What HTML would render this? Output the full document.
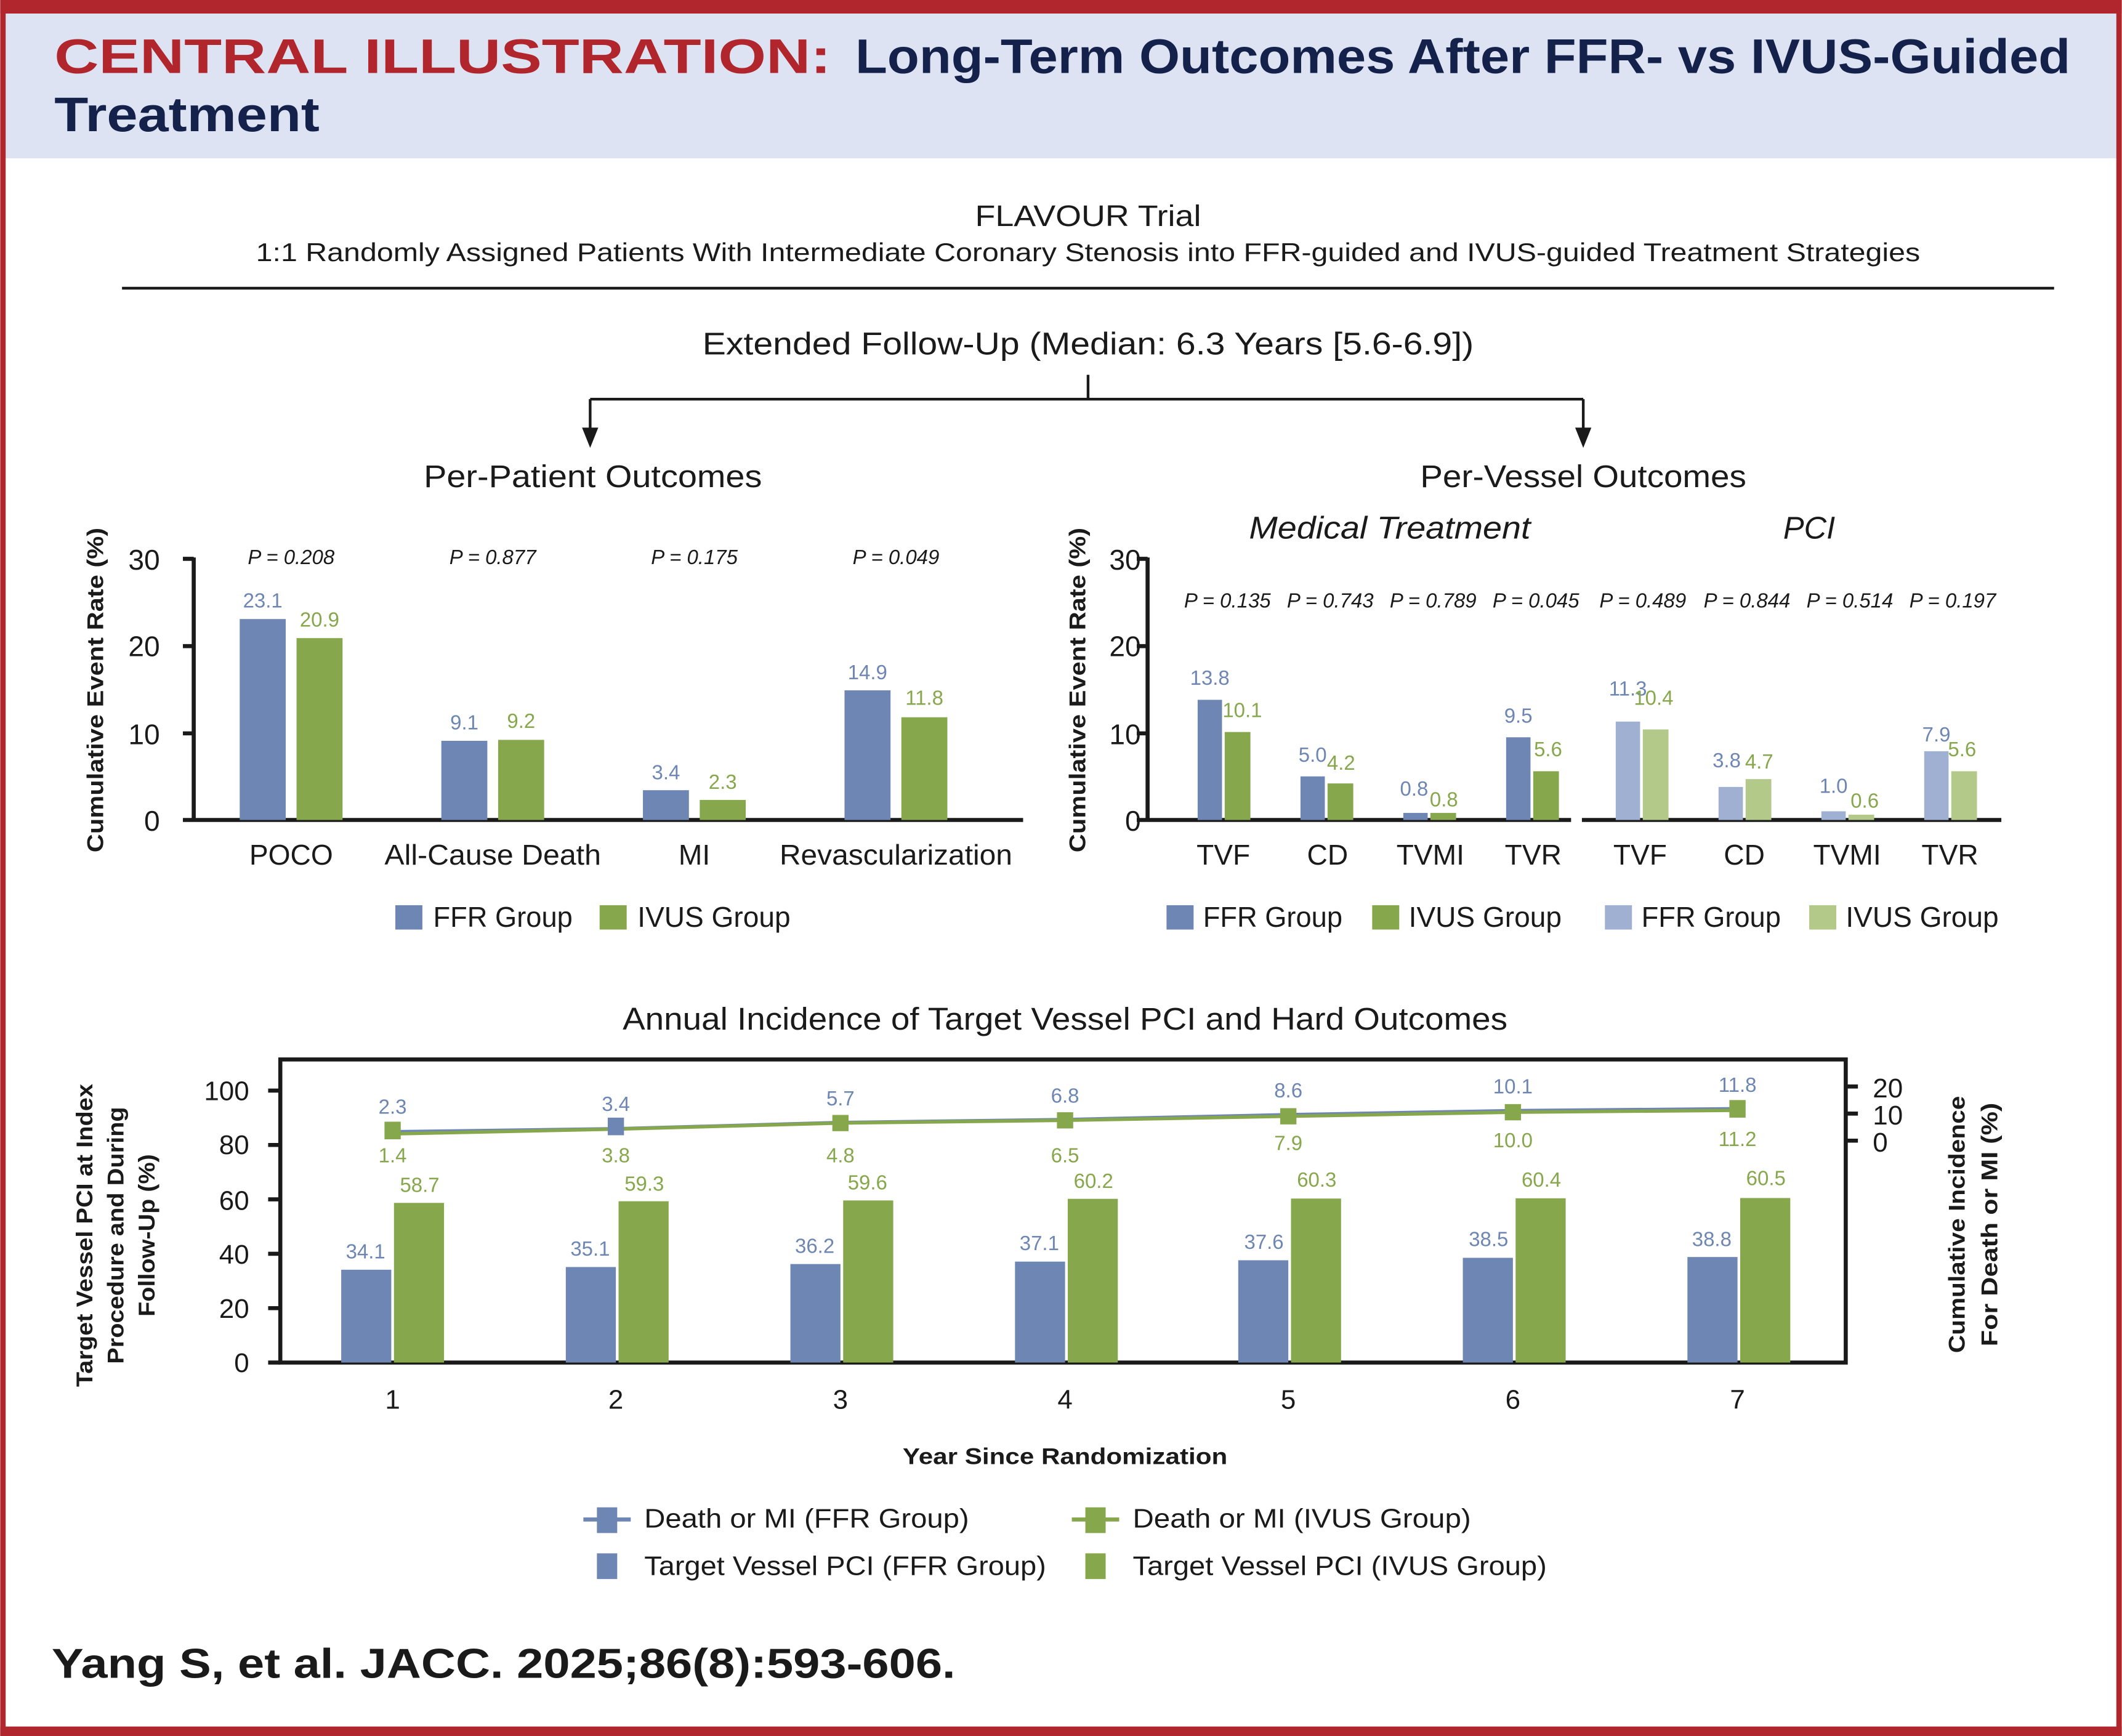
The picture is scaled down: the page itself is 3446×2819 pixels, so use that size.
<!DOCTYPE html>
<html><head><meta charset="utf-8"><style>
html,body{margin:0;padding:0;background:#fff}
svg{display:block}
text{font-family:"Liberation Sans",sans-serif}
</style></head><body>
<svg width="3446" height="2819" viewBox="0 0 1568 1283" xmlns="http://www.w3.org/2000/svg">
<rect x="0" y="0" width="1568" height="1283" fill="#fff"/>
<rect x="3" y="9" width="1562" height="108" fill="#dde3f3"/>
<rect x="0" y="0" width="1568" height="10" fill="#b0262c"/>
<rect x="0" y="0" width="4" height="1283" fill="#b0262c"/>
<rect x="1564" y="0" width="4" height="1283" fill="#b0262c"/>
<rect x="0" y="1276" width="1568" height="7" fill="#b0262c"/>
<text x="40" y="54" font-size="36" font-weight="bold" fill="#b0262c" textLength="574" lengthAdjust="spacingAndGlyphs">CENTRAL ILLUSTRATION:</text>
<text x="632" y="54" font-size="36" font-weight="bold" fill="#14214a" textLength="898" lengthAdjust="spacingAndGlyphs">Long-Term Outcomes After FFR- vs IVUS-Guided</text>
<text x="40" y="97" font-size="36" font-weight="bold" fill="#14214a" textLength="196" lengthAdjust="spacingAndGlyphs">Treatment</text>

<g fill="#1a1a1a" text-anchor="middle">
<text x="804" y="167" font-size="22" textLength="167" lengthAdjust="spacingAndGlyphs">FLAVOUR Trial</text>
<text x="804" y="193" font-size="19" textLength="1230" lengthAdjust="spacingAndGlyphs">1:1 Randomly Assigned Patients With Intermediate Coronary Stenosis into FFR-guided and IVUS-guided Treatment Strategies</text>
<text x="804" y="262" font-size="23" textLength="570" lengthAdjust="spacingAndGlyphs">Extended Follow-Up (Median: 6.3 Years [5.6-6.9])</text>
<text x="438" y="360" font-size="23" textLength="250" lengthAdjust="spacingAndGlyphs">Per-Patient Outcomes</text>
<text x="1170" y="360" font-size="23" textLength="241" lengthAdjust="spacingAndGlyphs">Per-Vessel Outcomes</text>
</g>
<g stroke="#1a1a1a" stroke-width="2" fill="none">
<line x1="90" y1="213" x2="1518" y2="213"/>
<line x1="804" y1="277" x2="804" y2="295"/>
<line x1="436" y1="295" x2="1170" y2="295"/>
<line x1="436" y1="295" x2="436" y2="318"/>
<line x1="1170" y1="295" x2="1170" y2="318"/>
</g>
<polygon points="430,316 442,316 436,331" fill="#1a1a1a"/>
<polygon points="1164,316 1176,316 1170,331" fill="#1a1a1a"/>

<!-- Left chart -->
<g stroke="#1a1a1a" stroke-width="3">
<line x1="143" y1="412" x2="143" y2="607"/>
<line x1="135" y1="606" x2="756" y2="606"/>
<line x1="135" y1="413" x2="143" y2="413"/>
<line x1="135" y1="477.5" x2="143" y2="477.5"/>
<line x1="135" y1="542" x2="143" y2="542"/>
</g>
<g font-size="21" fill="#1a1a1a" text-anchor="end">
<text x="118" y="421">30</text><text x="118" y="485">20</text><text x="118" y="550">10</text><text x="118" y="614">0</text>
</g>
<text transform="translate(76,510) rotate(-90)" font-size="17" font-weight="bold" text-anchor="middle" fill="#1a1a1a" textLength="240" lengthAdjust="spacingAndGlyphs">Cumulative Event Rate (%)</text>
<g fill="#6e86b3">
<rect x="177" y="457.5" width="34" height="148.5"/>
<rect x="326" y="547.5" width="34" height="58.5"/>
<rect x="475" y="584" width="34" height="22"/>
<rect x="624" y="510.2" width="34" height="95.8"/>
</g>
<g fill="#87a74c">
<rect x="219" y="471.6" width="34" height="134.4"/>
<rect x="368" y="546.8" width="34" height="59.2"/>
<rect x="517" y="591.2" width="34" height="14.8"/>
<rect x="666" y="530.1" width="34" height="75.9"/>
</g>
<g font-size="15" text-anchor="middle">
<g fill="#6e86b3"><text x="194" y="449">23.1</text><text x="343" y="539">9.1</text><text x="492" y="576">3.4</text><text x="641" y="502">14.9</text></g>
<g fill="#87a74c"><text x="236" y="463">20.9</text><text x="385" y="538">9.2</text><text x="534" y="583">2.3</text><text x="683" y="521">11.8</text></g>
<g fill="#1a1a1a" font-style="italic"><text x="215" y="417">P = 0.208</text><text x="364" y="417">P = 0.877</text><text x="513" y="417">P = 0.175</text><text x="662" y="417">P = 0.049</text></g>
</g>
<g font-size="21" text-anchor="middle" fill="#1a1a1a">
<text x="215" y="639">POCO</text><text x="364" y="639" textLength="160" lengthAdjust="spacingAndGlyphs">All-Cause Death</text><text x="513" y="639">MI</text><text x="662" y="639" textLength="172" lengthAdjust="spacingAndGlyphs">Revascularization</text>
</g>
<rect x="292" y="669" width="20" height="18" fill="#6e86b3"/>
<text x="320" y="685" font-size="21" fill="#1a1a1a" textLength="103" lengthAdjust="spacingAndGlyphs">FFR Group</text>
<rect x="443" y="669" width="20" height="18" fill="#87a74c"/>
<text x="471" y="685" font-size="21" fill="#1a1a1a" textLength="113" lengthAdjust="spacingAndGlyphs">IVUS Group</text>

<!-- Right chart -->
<g stroke="#1a1a1a" stroke-width="3">
<line x1="848" y1="412" x2="848" y2="607"/>
<line x1="840" y1="606" x2="1161" y2="606"/>
<line x1="1169" y1="606" x2="1479" y2="606"/>
<line x1="840" y1="413" x2="848" y2="413"/>
<line x1="840" y1="477.5" x2="848" y2="477.5"/>
<line x1="840" y1="542" x2="848" y2="542"/>
</g>
<g font-size="21" fill="#1a1a1a" text-anchor="end">
<text x="843" y="421">30</text><text x="843" y="485">20</text><text x="843" y="550">10</text><text x="843" y="614">0</text>
</g>
<text transform="translate(802,510) rotate(-90)" font-size="17" font-weight="bold" text-anchor="middle" fill="#1a1a1a" textLength="240" lengthAdjust="spacingAndGlyphs">Cumulative Event Rate (%)</text>
<text x="1027" y="398" font-size="23" font-style="italic" text-anchor="middle" fill="#1a1a1a" textLength="208" lengthAdjust="spacingAndGlyphs">Medical Treatment</text>
<text x="1337" y="398" font-size="23" font-style="italic" text-anchor="middle" fill="#1a1a1a">PCI</text>
<g fill="#6e86b3">
<rect x="885" y="517.2" width="18" height="88.8"/><rect x="961" y="573.8" width="18" height="32.2"/><rect x="1037" y="600.8" width="18" height="5.2"/><rect x="1113" y="544.9" width="18" height="61.1"/>
</g>
<g fill="#87a74c">
<rect x="905" y="541" width="19" height="65"/><rect x="981" y="579" width="19" height="27"/><rect x="1057" y="600.8" width="19" height="5.2"/><rect x="1133" y="570" width="19" height="36"/>
</g>
<g fill="#a0b0d2">
<rect x="1194" y="533.3" width="18" height="72.7"/><rect x="1270" y="581.6" width="18" height="24.4"/><rect x="1346" y="599.6" width="18" height="6.4"/><rect x="1422" y="555.2" width="18" height="50.8"/>
</g>
<g fill="#b3c98a">
<rect x="1214" y="539.1" width="19" height="66.9"/><rect x="1290" y="575.8" width="19" height="30.2"/><rect x="1366" y="602.1" width="19" height="3.9"/><rect x="1442" y="570" width="19" height="36"/>
</g>
<g font-size="15" text-anchor="middle">
<g fill="#6e86b3"><text x="894" y="506">13.8</text><text x="970" y="563">5.0</text><text x="1045" y="588">0.8</text><text x="1122" y="534">9.5</text>
<text x="1203" y="514">11.3</text><text x="1276" y="567">3.8</text><text x="1355" y="586">1.0</text><text x="1431" y="548">7.9</text></g>
<g fill="#87a74c"><text x="918" y="530">10.1</text><text x="991" y="569">4.2</text><text x="1067" y="596">0.8</text><text x="1144" y="559">5.6</text>
<text x="1222" y="521">10.4</text><text x="1300" y="568">4.7</text><text x="1378" y="597">0.6</text><text x="1450" y="559">5.6</text></g>
<g fill="#1a1a1a" font-style="italic">
<text x="907" y="449">P = 0.135</text><text x="983" y="449">P = 0.743</text><text x="1059" y="449">P = 0.789</text><text x="1135" y="449">P = 0.045</text>
<text x="1214" y="449">P = 0.489</text><text x="1291" y="449">P = 0.844</text><text x="1367" y="449">P = 0.514</text><text x="1443" y="449">P = 0.197</text></g>
</g>
<g font-size="21" text-anchor="middle" fill="#1a1a1a">
<text x="904" y="639">TVF</text><text x="981" y="639">CD</text><text x="1057" y="639">TVMI</text><text x="1133" y="639">TVR</text>
<text x="1212" y="639">TVF</text><text x="1289" y="639">CD</text><text x="1365" y="639">TVMI</text><text x="1441" y="639">TVR</text>
</g>
<g font-size="21" fill="#1a1a1a">
<rect x="862" y="669" width="20" height="18" fill="#6e86b3"/><text x="889" y="685" textLength="103" lengthAdjust="spacingAndGlyphs">FFR Group</text>
<rect x="1014" y="669" width="20" height="18" fill="#87a74c"/><text x="1041" y="685" textLength="113" lengthAdjust="spacingAndGlyphs">IVUS Group</text>
<rect x="1186" y="669" width="20" height="18" fill="#a0b0d2"/><text x="1213" y="685" textLength="103" lengthAdjust="spacingAndGlyphs">FFR Group</text>
<rect x="1337" y="669" width="20" height="18" fill="#b3c98a"/><text x="1364" y="685" textLength="113" lengthAdjust="spacingAndGlyphs">IVUS Group</text>
</g>

<!-- Bottom chart -->
<text x="787" y="761" font-size="23" text-anchor="middle" fill="#1a1a1a" textLength="654" lengthAdjust="spacingAndGlyphs">Annual Incidence of Target Vessel PCI and Hard Outcomes</text>
<rect x="207" y="783" width="1157" height="224" fill="none" stroke="#1a1a1a" stroke-width="3"/>
<g stroke="#1a1a1a" stroke-width="3">
<line x1="198" y1="1007" x2="207" y2="1007"/><line x1="198" y1="966.8" x2="207" y2="966.8"/><line x1="198" y1="926.6" x2="207" y2="926.6"/>
<line x1="198" y1="886.4" x2="207" y2="886.4"/><line x1="198" y1="846.2" x2="207" y2="846.2"/><line x1="198" y1="806" x2="207" y2="806"/>
<line x1="1364" y1="803" x2="1373" y2="803"/><line x1="1364" y1="823" x2="1373" y2="823"/><line x1="1364" y1="843" x2="1373" y2="843"/>
</g>
<g font-size="20" fill="#1a1a1a" text-anchor="end">
<text x="184" y="1014">0</text><text x="184" y="974">20</text><text x="184" y="934">40</text><text x="184" y="894">60</text><text x="184" y="853">80</text><text x="184" y="813">100</text>
</g>
<g font-size="20" fill="#1a1a1a">
<text x="1384" y="811">20</text><text x="1384" y="831">10</text><text x="1384" y="851">0</text>
</g>
<g font-size="17" font-weight="bold" fill="#1a1a1a" text-anchor="middle">
<text transform="translate(68,913) rotate(-90)" textLength="224" lengthAdjust="spacingAndGlyphs">Target Vessel PCI at Index</text>
<text transform="translate(91,913) rotate(-90)" textLength="190" lengthAdjust="spacingAndGlyphs">Procedure and During</text>
<text transform="translate(114,913) rotate(-90)" textLength="120" lengthAdjust="spacingAndGlyphs">Follow-Up (%)</text>
<text transform="translate(1452,905) rotate(-90)" textLength="190" lengthAdjust="spacingAndGlyphs">Cumulative Incidence</text>
<text transform="translate(1476,905) rotate(-90)" textLength="180" lengthAdjust="spacingAndGlyphs">For Death or MI (%)</text>
<text x="787" y="1082" textLength="240" lengthAdjust="spacingAndGlyphs">Year Since Randomization</text>
</g>
<g fill="#6e86b3">
<rect x="252" y="938.4" width="37" height="68.6"/><rect x="418" y="936.4" width="37" height="70.6"/><rect x="584" y="934.2" width="37" height="72.8"/>
<rect x="750" y="932.4" width="37" height="74.6"/><rect x="915" y="931.4" width="37" height="75.6"/><rect x="1081" y="929.6" width="37" height="77.4"/><rect x="1247" y="929" width="37" height="78"/>
</g>
<g fill="#87a74c">
<rect x="291" y="889" width="37" height="118"/><rect x="457" y="887.8" width="37" height="119.2"/><rect x="623" y="887.2" width="37" height="119.8"/>
<rect x="789" y="886" width="37" height="121"/><rect x="954" y="885.8" width="37" height="121.2"/><rect x="1120" y="885.6" width="37" height="121.4"/><rect x="1286" y="885.4" width="37" height="121.6"/>
</g>
<g font-size="15" text-anchor="middle">
<g fill="#6e86b3"><text x="270" y="930">34.1</text><text x="436" y="928">35.1</text><text x="602" y="926">36.2</text><text x="768" y="924">37.1</text><text x="934" y="923">37.6</text><text x="1100" y="921">38.5</text><text x="1265" y="921">38.8</text>
<text x="290" y="823">2.3</text><text x="455" y="821">3.4</text><text x="621" y="817">5.7</text><text x="787" y="815">6.8</text><text x="952" y="811">8.6</text><text x="1118" y="808">10.1</text><text x="1284" y="807">11.8</text></g>
<g fill="#87a74c"><text x="310" y="881">58.7</text><text x="476" y="880">59.3</text><text x="641" y="879">59.6</text><text x="808" y="878">60.2</text><text x="973" y="877">60.3</text><text x="1139" y="877">60.4</text><text x="1305" y="876">60.5</text>
<text x="290" y="859">1.4</text><text x="455" y="859">3.8</text><text x="621" y="859">4.8</text><text x="787" y="859">6.5</text><text x="952" y="850">7.9</text><text x="1118" y="848">10.0</text><text x="1284" y="847">11.2</text></g>
</g>
<polyline points="290,836.4 455,834.2 621,829.6 787,827.4 952,823.8 1118,820.8 1284,819.4" fill="none" stroke="#6e86b3" stroke-width="2.5"/>
<polyline points="290,838 455,834.5 621,830 787,828 952,825 1118,822 1284,820.6" fill="none" stroke="#87a74c" stroke-width="2.5"/>
<g fill="#87a74c"><rect x="284" y="829" width="12" height="13"/><rect x="615" y="824" width="12" height="12"/><rect x="781" y="822" width="12" height="12"/><rect x="946" y="819" width="12" height="12"/><rect x="1112" y="816" width="12" height="12"/><rect x="1278" y="813" width="12" height="13"/></g>
<rect x="449" y="826" width="12" height="13" fill="#6e86b3"/>

<g font-size="20" fill="#1a1a1a" text-anchor="middle">
<text x="290" y="1041">1</text><text x="455" y="1041">2</text><text x="621" y="1041">3</text><text x="787" y="1041">4</text><text x="952" y="1041">5</text><text x="1118" y="1041">6</text><text x="1284" y="1041">7</text>
</g>
<g font-size="20" fill="#1a1a1a">
<line x1="431" y1="1123" x2="466" y2="1123" stroke="#6e86b3" stroke-width="3"/><rect x="441" y="1114" width="15" height="19" fill="#6e86b3"/>
<text x="476" y="1129" textLength="240" lengthAdjust="spacingAndGlyphs">Death or MI (FFR Group)</text>
<line x1="792" y1="1123" x2="827" y2="1123" stroke="#87a74c" stroke-width="3"/><rect x="802" y="1114" width="15" height="19" fill="#87a74c"/>
<text x="837" y="1129" textLength="250" lengthAdjust="spacingAndGlyphs">Death or MI (IVUS Group)</text>
<rect x="441" y="1148" width="15" height="19" fill="#6e86b3"/>
<text x="476" y="1164" textLength="297" lengthAdjust="spacingAndGlyphs">Target Vessel PCI (FFR Group)</text>
<rect x="802" y="1148" width="15" height="19" fill="#87a74c"/>
<text x="837" y="1164" textLength="306" lengthAdjust="spacingAndGlyphs">Target Vessel PCI (IVUS Group)</text>
</g>
<text x="38" y="1240" font-size="31" font-weight="bold" fill="#1a1a1a" textLength="668" lengthAdjust="spacingAndGlyphs">Yang S, et al. JACC. 2025;86(8):593-606.</text>
</svg>
</body></html>
